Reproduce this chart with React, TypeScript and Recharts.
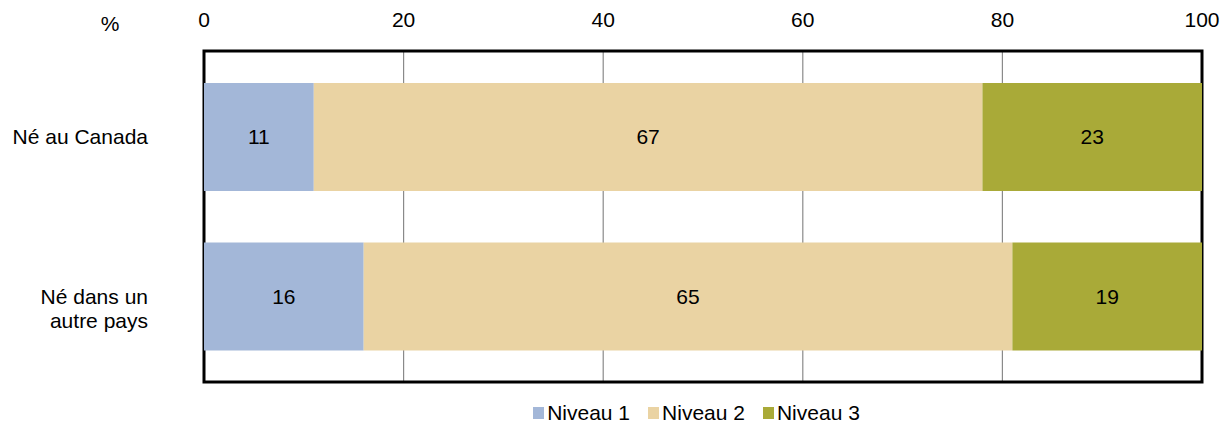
import {
  BarChart,
  Bar,
  XAxis,
  YAxis,
  CartesianGrid,
  Legend,
  LabelList,
  usePlotArea,
} from "recharts";

const categories = ["Né au Canada", "Né dans un autre pays"];
const niveau1 = [11, 16];
const niveau2 = [67, 65];
const niveau3 = [23, 19];
const xTicks = [0, 20, 40, 60, 80, 100];

const seriesNames = ["Niveau 1", "Niveau 2", "Niveau 3"];
const colors = ["#A3B7D8", "#EAD3A3", "#A9AA38"];

const data = categories.map((name, i) => ({
  name,
  n1: niveau1[i],
  n2: niveau2[i],
  n3: niveau3[i],
}));

const FONT = "'Liberation Sans', Arial, sans-serif";
const FS = 21;

function wrap(text: string, max: number) {
  const lines: string[] = [];
  let cur = "";
  for (const w of text.split(" ")) {
    const next = cur ? cur + " " + w : w;
    if (next.length > max && cur) {
      lines.push(cur);
      cur = w;
    } else {
      cur = next;
    }
  }
  if (cur) lines.push(cur);
  return lines;
}

function CategoryTick(props: any) {
  const { x, y, payload } = props;
  const lines = wrap(payload.value, 12);
  return (
    <text
      x={x}
      y={y}
      textAnchor="end"
      fontFamily={FONT}
      fontSize={FS}
      fill="#000"
    >
      {lines.map((l, i) => (
        <tspan key={i} x={x} dy={i === 0 ? "0.35em" : 24}>
          {l}
        </tspan>
      ))}
    </text>
  );
}

// black frame round the plot area plus the "%" unit label
function PlotFrame() {
  const plot = usePlotArea();
  if (!plot) return null;
  return (
    <g>
      <rect
        x={plot.x}
        y={plot.y}
        width={plot.width}
        height={plot.height}
        fill="none"
        stroke="#000"
        strokeWidth={3}
      />
      <text
        x={plot.x - 94}
        y={31}
        textAnchor="middle"
        fontFamily={FONT}
        fontSize={FS}
        fill="#000"
      >
        %
      </text>
    </g>
  );
}

function LegendContent(props: any) {
  const payload = props.payload || [];
  return (
    <div
      style={{
        height: 45,
        boxSizing: "border-box",
        paddingTop: 17,
        paddingLeft: 191,
        display: "flex",
        justifyContent: "center",
        alignItems: "center",
        gap: 18,
        fontFamily: FONT,
        fontSize: FS,
        color: "#000",
      }}
    >
      {payload.map((p: any, i: number) => (
        <span key={i} style={{ display: "flex", alignItems: "center" }}>
          <span
            style={{
              width: 11,
              height: 12,
              background: p.color,
              display: "inline-block",
              marginRight: 3,
            }}
          />
          {p.value}
        </span>
      ))}
    </div>
  );
}

export default function App() {
  return (
    <div style={{ position: "absolute", left: 0, top: 0, background: "#fff" }}>
      <BarChart
        width={1230}
        height={427}
        data={data}
        layout="vertical"
        margin={{ top: 0, right: 28, left: 0, bottom: 0 }}
      >
        <CartesianGrid horizontal={false} stroke="#8a8a8a" strokeWidth={1.2} />
        <XAxis
          type="number"
          orientation="top"
          domain={[0, 100]}
          ticks={xTicks}
          allowDataOverflow
          axisLine={false}
          tickLine={false}
          tickSize={0}
          tickMargin={24}
          height={51}
          tick={{ fontFamily: FONT, fontSize: FS, fill: "#000" }}
        />
        <YAxis
          type="category"
          dataKey="name"
          width={204}
          axisLine={false}
          tickLine={false}
          tickSize={0}
          tickMargin={56}
          padding={{ top: 6, bottom: 6 }}
          tick={<CategoryTick />}
        />
        <Legend verticalAlign="bottom" content={<LegendContent />} />
        {["n1", "n2", "n3"].map((k, i) => (
          <Bar
            key={k}
            dataKey={k}
            name={seriesNames[i]}
            stackId="a"
            fill={colors[i]}
            barSize={108}
            isAnimationActive={false}
          >
            <LabelList
              dataKey={k}
              position="center"
              fill="#000"
              fontFamily={FONT}
              fontSize={FS}
            />
          </Bar>
        ))}
        <PlotFrame />
      </BarChart>
    </div>
  );
}
